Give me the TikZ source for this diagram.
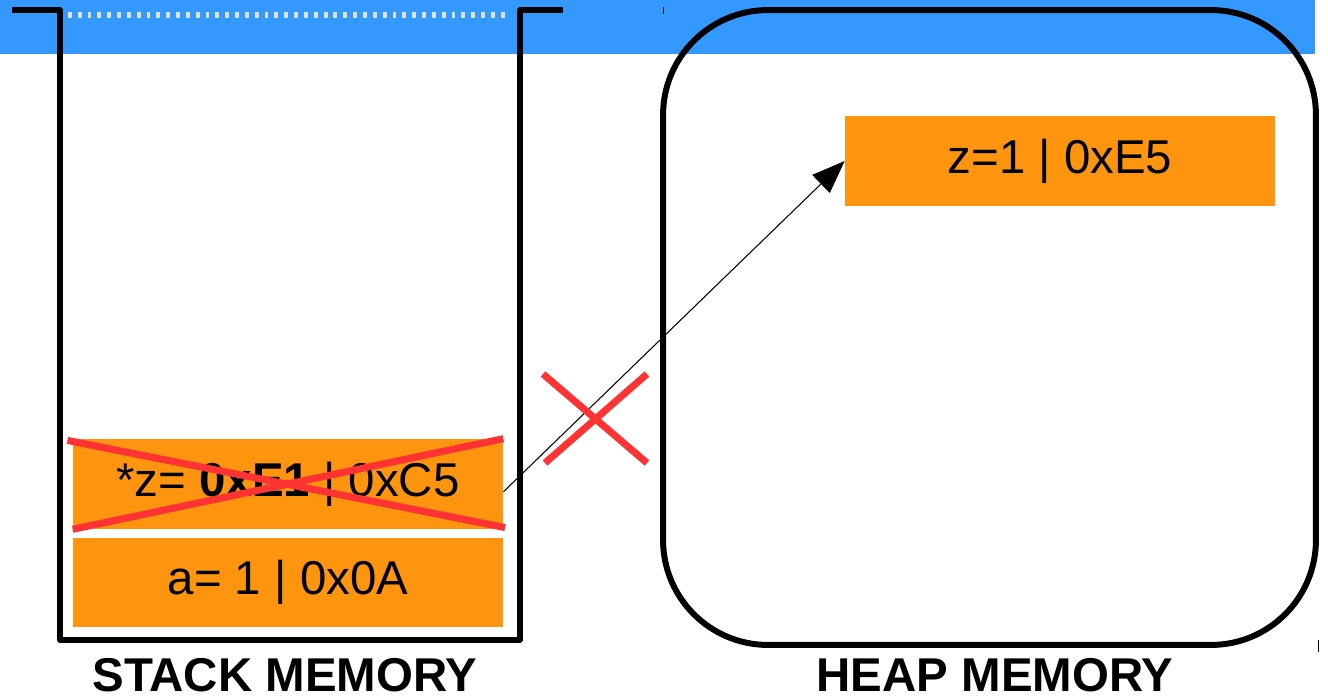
\documentclass[tikz,border=0pt]{standalone}
\usepackage{fontspec}
\setmainfont{Liberation Sans}
\usetikzlibrary{arrows.meta}
\definecolor{bandblue}{RGB}{51,153,255}
\definecolor{cellorange}{RGB}{255,149,14}
\definecolor{crossred}{RGB}{255,51,51}
\tikzstyle{cell} = [
    rectangle,
    fill=cellorange,
    minimum width=8.6cm,
    minimum height=1.8cm,
    inner sep=0pt,
    font=\fontsize{27}{32}\selectfont
]
\tikzstyle{heapframe} = [
    rectangle,
    rounded corners=2.1cm,
    minimum width=13.06cm,
    minimum height=12.7cm,
    inner sep=0pt,
    line width=3.4pt,
    draw=black
]
\tikzstyle{wall} = [line width=3.3pt, line join=round]
\tikzstyle{cross} = [line width=4pt, draw=crossred]
\tikzstyle{title} = [anchor=base, font=\fontsize{27}{32}\selectfont\bfseries]
\tikzstyle{arrow} = [line width=0.6pt, -{Triangle[length=0.66cm, width=0.5cm]}]

\begin{document}
\begin{tikzpicture}[x=0.02cm, y=-0.02cm]
\useasboundingbox (0,0) rectangle (1328,696);

% top band
\fill[bandblue] (0,0) rectangle (1315,54);
\draw[white!88!black, line width=3.4pt, dash pattern=on 2.2pt off 3.4pt] (58,15) -- (510,15);
\draw[line width=0.5pt] (663,7) -- (663,14);
\draw[line width=0.5pt] (1318,640) -- (1318,652);

% stack
\draw[wall] (12,10) -- (60,10) -- (60,640) -- (520,640) -- (520,10) -- (563,10);

\node (zptr) [cell] at (288,484) {*z= \textbf{0xE1} | 0xC5};
\node (aval) [cell] at (288,582.5) {a= 1 | 0x0A};

% heap
\node (heap) [heapframe] at (989.5,327.5) {};
\node (zval) [cell] at (1060,161) {z=1 | 0xE5};

\draw [arrow] ([yshift=-4.5pt]zptr.east) -- (zval.west);

% crossed out
\draw [cross] ([xshift=-3pt,yshift=-1pt]zptr.north west) -- ([xshift=1pt,yshift=1pt]zptr.south east);
\draw [cross] (zptr.south west) -- (zptr.north east);
\draw [cross] (543,374) -- (647,463);
\draw [cross] (545,463) -- (647,374);

\node [title] at (285,691) {STACK MEMORY};
\node [title] at (995,691) {HEAP MEMORY};

\end{tikzpicture}
\end{document}
